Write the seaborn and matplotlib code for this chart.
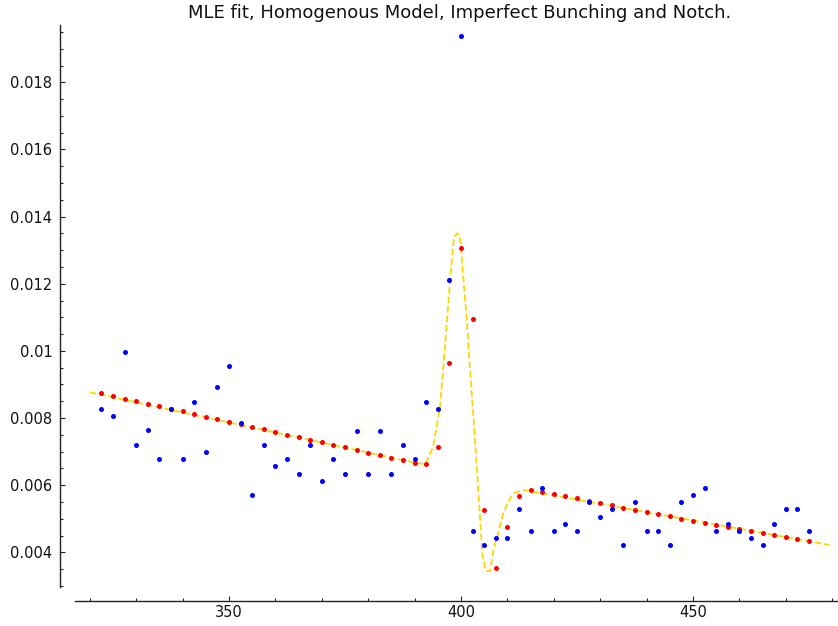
import numpy as np
import pandas as pd
import seaborn as sns
import matplotlib
matplotlib.use("Agg")
import matplotlib.pyplot as plt
from matplotlib.ticker import MultipleLocator, FuncFormatter

# bins (x) shared by observed data and model
bins = np.arange(322.5, 475.01, 2.5)

# observed shares (blue)
observed = [
    0.008269, 0.008051, 0.009976, 0.007196, 0.007634, 0.006770, 0.008269, 0.006770,
    0.008486, 0.006988, 0.008915, 0.009550, 0.007843, 0.005707, 0.007196, 0.006562,
    0.006770, 0.006341, 0.007196, 0.006133, 0.006770, 0.006341, 0.007622, 0.006341,
    0.007622, 0.006341, 0.007196, 0.006770, 0.008477, 0.008260, 0.012111, 0.019380,
    0.004643, 0.004209, 0.004426, 0.004426, 0.005281, 0.004634, 0.005924, 0.004634,
    0.004852, 0.004634, 0.005498, 0.005060, 0.005281, 0.004209, 0.005498, 0.004634,
    0.004634, 0.004209, 0.005498, 0.005707, 0.005924, 0.004634, 0.004852, 0.004634,
    0.004426, 0.004209, 0.004852, 0.005281, 0.005281, 0.004634,
]

# fitted shares per bin (red)
fitted = [
    0.008736, 0.008656, 0.008575, 0.008498, 0.008427, 0.008349, 0.008269, 0.008200,
    0.008120, 0.008039, 0.007971, 0.007890, 0.007813, 0.007733, 0.007664, 0.007590,
    0.007503, 0.007426, 0.007354, 0.007277, 0.007196, 0.007128, 0.007047, 0.006967,
    0.006890, 0.006818, 0.006741, 0.006669, 0.006630, 0.007128, 0.009648, 0.013056,
    0.010941, 0.005269, 0.003532, 0.004763, 0.005668, 0.005847, 0.005796, 0.005737,
    0.005677, 0.005609, 0.005537, 0.005469, 0.005409, 0.005329, 0.005269, 0.005200,
    0.005141, 0.005072, 0.005001, 0.004941, 0.004882, 0.004822, 0.004763, 0.004703,
    0.004634, 0.004575, 0.004515, 0.004465, 0.004405, 0.004346,
]

# fitted density curve (yellow dashed)
curve_x = [320.0, 390.0, 392.4, 394.0, 395.5, 396.2, 396.9, 397.6, 398.5, 399.2,
           399.8, 400.5, 401.2, 401.9, 402.7, 403.4, 404.1, 404.6, 405.4, 406.3,
           407.0, 408.0, 409.1, 410.2, 411.3, 413.4, 479.5]
curve_y = [0.008766, 0.006670, 0.006621, 0.007146, 0.008337, 0.009529, 0.010720,
           0.012013, 0.013401, 0.013502, 0.013401, 0.012210, 0.011018, 0.009529,
           0.008039, 0.006550, 0.005060, 0.003970, 0.003440, 0.003440, 0.004069,
           0.004566, 0.005162, 0.005507, 0.005758, 0.005856, 0.004217]

title = "MLE fit, Homogenous Model, Imperfect Bunching and Notch."

W, H = 838, 626
fig = plt.figure(figsize=(W / 100, H / 100), dpi=100)
ax = fig.add_axes([60 / W, (H - 600.7) / H, (W - 60) / W, (600.7 - 25) / H])

sns.lineplot(x=curve_x, y=curve_y, ax=ax, color="#ffd700", linestyle="--",
             linewidth=1.3, zorder=2)
sns.scatterplot(x=bins, y=fitted, ax=ax, color="red", s=13, linewidth=0, zorder=3)
sns.scatterplot(x=bins, y=observed, ax=ax, color="blue", s=13, linewidth=0, zorder=4)

ax.set_xlim(313.6, 481.25)
ax.set_ylim(0.002558, 0.019707)

for s in ["top", "right"]:
    ax.spines[s].set_visible(False)
ax.spines["left"].set_bounds(0.002975, 0.019707)
ax.spines["bottom"].set_bounds(316.8, 481.25)
for s in ["left", "bottom"]:
    ax.spines[s].set_color("#222222")
    ax.spines[s].set_linewidth(1.0)

ax.xaxis.set_major_locator(MultipleLocator(50))
ax.xaxis.set_minor_locator(MultipleLocator(10))
ax.yaxis.set_major_locator(MultipleLocator(0.002))
ax.yaxis.set_minor_locator(MultipleLocator(0.0005))
ax.yaxis.set_major_formatter(FuncFormatter(lambda v, p: "%g" % round(v, 6)))

ax.tick_params(which="major", direction="in", length=3.8, width=0.8, color="#222222",
               labelsize=10.5, labelcolor="#111111")
ax.tick_params(which="minor", direction="in", length=2.2, width=0.8, color="#222222")
ax.tick_params(axis="x", which="major", pad=3)
ax.tick_params(axis="y", which="major", pad=5.5)
ax.set_xlabel("")
ax.set_ylabel("")

fig.text(460 / W, 1 - 13 / H, title, ha="center", va="center", fontsize=13,
         color="#111111")

fig.savefig("out.png", dpi=100)
